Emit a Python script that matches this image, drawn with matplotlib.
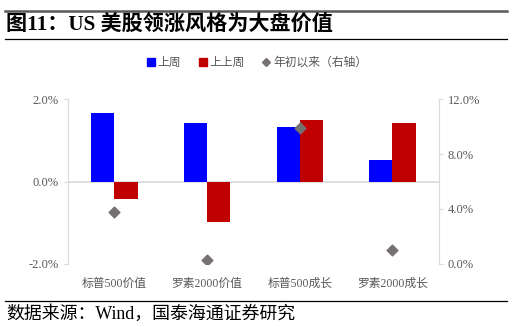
import matplotlib.pyplot as plt
import numpy as np
from matplotlib.lines import Line2D

plt.rcParams['font.family'] = ['Liberation Serif', 'Noto Sans CJK SC']

# weekly returns (%), left axis; YTD return (%), right axis
categories = ['标普500价值', '罗素2000价值', '标普500成长', '罗素2000成长']
last_week = [1.66, 1.41, 1.32, 0.53]
prev_week = [-0.42, -0.98, 1.49, 1.41]
ytd = [3.76, 0.29, 9.91, 1.0]

BLUE = '#0000ff'
RED = '#c00000'
GRAY_TXT = '#595959'
SPINE = '#d9d9d9'

fig = plt.figure(figsize=(5.12, 3.27), dpi=100)
ax = fig.add_axes([0.1328, 0.1927, 0.7242, 0.5045])
ax2 = ax.twinx()

x = np.arange(len(categories))
w = 0.25
ax.bar(x - w / 2, last_week, w, color=BLUE, zorder=2)
ax.bar(x + w / 2, prev_week, w, color=RED, zorder=2)
ax.axhline(0, color=SPINE, lw=1.2, zorder=1)
ax2.scatter(x, ytd, marker='D', s=30, color='#767171', zorder=3)

ax.set_xlim(-0.5, 3.5)
ax.set_ylim(-2, 2)
ax.set_yticks([-2, 0, 2])
ax.set_yticklabels(['-2.0%', '0.0%', '2.0%'])
ax2.set_ylim(0, 12)
ax2.set_yticks([0, 4, 8, 12])
ax2.set_yticklabels(['0.0%', '4.0%', '8.0%', '12.0%'])

ax.set_xticks(x)
ax.set_xticklabels(categories)
ax.tick_params(axis='x', length=0, pad=10, labelsize=8.5, labelcolor=GRAY_TXT)
ax.tick_params(axis='y', length=3, width=0.8, color=SPINE, labelsize=9, labelcolor=GRAY_TXT)
ax2.tick_params(axis='y', length=3, width=0.8, color=SPINE, labelsize=9, labelcolor=GRAY_TXT)

for a in (ax, ax2):
    for s in a.spines.values():
        s.set_visible(False)
ax.spines['left'].set_visible(True)
ax.spines['left'].set_color(SPINE)
ax2.spines['right'].set_visible(True)
ax2.spines['right'].set_color(SPINE)

# legend across the top
handles = [
    Line2D([], [], marker='s', ls='', color=BLUE, markersize=5.5),
    Line2D([], [], marker='s', ls='', color=RED, markersize=5.5),
    Line2D([], [], marker='D', ls='', color='#767171', markersize=4),
]
fig.legend(handles, ['上周', '上上周', '年初以来（右轴）'], loc='center',
           bbox_to_anchor=(0.5, 1 - 63 / 327), ncol=3, frameon=False,
           fontsize=8.5, handletextpad=0.1, columnspacing=1.3, handlelength=1,
           labelcolor=GRAY_TXT)

# title block and source line
fig.add_artist(Line2D([0.01, 0.99], [1 - 11 / 327] * 2, color='#595959', lw=1.8))
fig.text(0.012, 1 - 25 / 327, '图11：US 美股领涨风格为大盘价值', fontsize=15.2,
         fontweight='bold', va='center', ha='left')
fig.add_artist(Line2D([0.01, 0.99], [1 - 39 / 327] * 2, color='black', lw=0.9))
fig.add_artist(Line2D([0.01, 0.99], [1 - 301 / 327] * 2, color='black', lw=0.9))
fig.text(0.012, 1 - 314 / 327, '数据来源：Wind，国泰海通证券研究', fontsize=12.9,
         va='center', ha='left')

fig.savefig('out.png', dpi=100)
